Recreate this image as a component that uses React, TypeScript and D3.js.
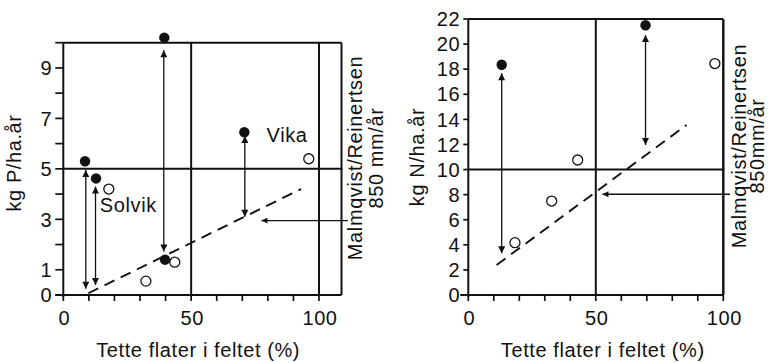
import * as d3 from "d3";

// ---- data ----
const xTicks = [0, 10, 20, 30, 40, 50, 60, 70, 80, 90, 100];
const xTickLabels = [0, 50, 100];

// left panel: phosphorus
const pYTicks = [0, 1, 2, 3, 4, 5, 6, 7, 8, 9, 10];
const pYTickLabels = [0, 1, 3, 5, 7, 9];
const pFilled = [
  { x: 8.5, y: 5.3 },
  { x: 12.8, y: 4.62 },
  { x: 39.5, y: 10.2 },
  { x: 70.8, y: 6.45 },
  { x: 39.8, y: 1.4 },
];
const pOpen = [
  { x: 17.8, y: 4.2 },
  { x: 96, y: 5.4 },
  { x: 32.3, y: 0.55 },
  { x: 43.6, y: 1.3 },
];
const pArrows = [
  { x: 8.8, y0: 0.25, y1: 4.95 },
  { x: 12.6, y0: 0.4, y1: 4.3 },
  { x: 39.3, y0: 1.72, y1: 9.7 },
  { x: 71, y0: 3.1, y1: 6.3 },
];
const pTrend = [
  { x: 9.8, y: 0.07 },
  { x: 93, y: 4.2 },
];
const pMalm = { x0: 111.3, x1: 77.5, y: 2.95 };
const pLabels = [
  { text: "Solvik", x: 14.3, y: 3.3 },
  { text: "Vika", x: 79.5, y: 6.05 },
];

// right panel: nitrogen
const nYTicks = [0, 2, 4, 6, 8, 10, 12, 14, 16, 18, 20, 22];
const nFilled = [
  { x: 13.1, y: 18.35 },
  { x: 69.5, y: 21.5 },
];
const nOpen = [
  { x: 18.3, y: 4.17 },
  { x: 32.7, y: 7.49 },
  { x: 42.9, y: 10.76 },
  { x: 96.7, y: 18.45 },
];
const nArrows = [
  { x: 13.1, y0: 3.32, y1: 17.67 },
  { x: 69.5, y0: 11.96, y1: 20.72 },
];
const nTrend = [
  { x: 11.1, y: 2.39 },
  { x: 85.6, y: 13.55 },
];
const nMalm = { x0: 102.6, x1: 52.6, y: 8.03 };

const FONT = "'Liberation Sans', Arial, sans-serif";
const FS = 20;
const LS = 0.6;
const INK = "#111";

interface Pt {
  x: number;
  y: number;
}
interface Arrow {
  x: number;
  y0: number;
  y1: number;
}

interface PanelProps {
  xRange: [number, number];
  yDomain: [number, number];
  yRange: [number, number];
  xMax: number;
  yTicks: number[];
  yTickLabels: number[];
  yTickLen: number;
  hLine: number;
  filled: Pt[];
  open: Pt[];
  arrows: Arrow[];
  trend: Pt[];
  malm: { x0: number; x1: number; y: number };
  labels: { text: string; x: number; y: number }[];
  yTitle: string;
  yTitleX: number;
  yTitleY: number;
  xTitleY: number;
  rightLines: string[];
  rightX: number[];
  rightY: number;
}

function Panel(p: PanelProps) {
  const x = d3.scaleLinear().domain([0, 100]).range(p.xRange);
  const y = d3.scaleLinear().domain(p.yDomain).range(p.yRange);
  const x0 = x(0);
  const y0 = y(0);
  const xR = x(p.xMax);
  const yT = y(p.yDomain[1]);
  const line = d3
    .line<Pt>()
    .x((d) => x(d.x))
    .y((d) => y(d.y));
  const txt = {
    fontFamily: FONT,
    fontSize: FS,
    letterSpacing: LS,
    fill: INK,
  } as const;

  return (
    <g>
      {/* frame and reference lines */}
      <g stroke={INK} strokeWidth={2} fill="none">
        <line x1={x0} x2={x0} y1={yT} y2={y0 + 2} />
        <line x1={x0 - 8} x2={xR} y1={y0} y2={y0} />
        <line x1={x0} x2={xR} y1={yT} y2={yT} />
        <line x1={xR} x2={xR} y1={yT} y2={y0} />
        <line x1={x(50)} x2={x(50)} y1={yT} y2={y0} />
        <line x1={x(100)} x2={x(100)} y1={yT} y2={y0} />
        <line x1={x0} x2={xR + 1} y1={y(p.hLine)} y2={y(p.hLine)} />
      </g>
      {/* ticks */}
      <g stroke={INK} strokeWidth={1.7}>
        {p.yTicks.map((t) => (
          <line key={t} x1={x0 - p.yTickLen} x2={x0} y1={y(t)} y2={y(t)} />
        ))}
        {xTicks.map((t) => (
          <line key={t} x1={x(t)} x2={x(t)} y1={y0} y2={y0 + 6} />
        ))}
      </g>
      {p.yTickLabels.map((t) => (
        <text
          key={t}
          x={x0 - p.yTickLen - 3}
          y={y(t)}
          dy="0.36em"
          textAnchor="end"
          {...txt}
        >
          {t}
        </text>
      ))}
      {xTickLabels.map((t) => (
        <text key={t} x={x(t) + 1} y={325} textAnchor="middle" {...txt}>
          {t}
        </text>
      ))}
      {/* trend */}
      <path
        d={line(p.trend) ?? ""}
        stroke={INK}
        strokeWidth={1.9}
        strokeDasharray="11,7"
        fill="none"
      />
      {/* vertical double arrows and the reference-value arrow */}
      <g stroke={INK} strokeWidth={1.3}>
        {p.arrows.map((a, i) => (
          <line
            key={i}
            x1={x(a.x)}
            x2={x(a.x)}
            y1={y(a.y0)}
            y2={y(a.y1)}
            markerStart="url(#ah)"
            markerEnd="url(#ah)"
          />
        ))}
        <line
          x1={x(p.malm.x0)}
          x2={x(p.malm.x1)}
          y1={y(p.malm.y)}
          y2={y(p.malm.y)}
          markerEnd="url(#ah2)"
        />
      </g>
      {/* points */}
      {p.filled.map((d, i) => (
        <circle key={i} cx={x(d.x)} cy={y(d.y)} r={5.2} fill={INK} />
      ))}
      {p.open.map((d, i) => (
        <circle
          key={i}
          cx={x(d.x)}
          cy={y(d.y)}
          r={5}
          fill="#fff"
          stroke={INK}
          strokeWidth={1.3}
        />
      ))}
      {p.labels.map((l) => (
        <text key={l.text} x={x(l.x)} y={y(l.y)} {...txt}>
          {l.text}
        </text>
      ))}
      {/* axis titles */}
      <text
        transform={`translate(${p.yTitleX},${p.yTitleY}) rotate(-90)`}
        textAnchor="middle"
        {...txt}
      >
        {p.yTitle}
      </text>
      <text
        x={(x(0) + x(100)) / 2 + 7}
        y={p.xTitleY}
        textAnchor="middle"
        {...txt}
      >
        Tette flater i feltet (%)
      </text>
      {p.rightLines.map((s, i) => (
        <text
          key={s}
          transform={`translate(${p.rightX[i]},${p.rightY}) rotate(-90)`}
          textAnchor="middle"
          {...txt}
        >
          {s}
        </text>
      ))}
    </g>
  );
}

export default function App() {
  return (
    <svg
      width={769}
      height={363}
      style={{ position: "absolute", left: 0, top: 0, background: "#fff" }}
    >
      <defs>
        <marker
          id="ah"
          viewBox="0 0 10 10"
          refX={10}
          refY={5}
          markerUnits="userSpaceOnUse"
          markerWidth={10}
          markerHeight={7}
          orient="auto-start-reverse"
        >
          <path d="M0,0 L10,5 L0,10 Z" fill={INK} />
        </marker>
        <marker
          id="ah2"
          viewBox="0 0 10 10"
          refX={10}
          refY={5}
          markerUnits="userSpaceOnUse"
          markerWidth={10}
          markerHeight={6}
          orient="auto"
        >
          <path d="M0,0 L10,5 L0,10 Z" fill={INK} />
        </marker>
      </defs>
      <Panel
        xRange={[63.3, 319]}
        yDomain={[0, 10]}
        yRange={[295, 42.7]}
        xMax={108.8}
        yTicks={pYTicks}
        yTickLabels={pYTickLabels}
        yTickLen={8}
        hLine={5}
        filled={pFilled}
        open={pOpen}
        arrows={pArrows}
        trend={pTrend}
        malm={pMalm}
        labels={pLabels}
        yTitle="kg P/ha.år"
        yTitleX={21}
        yTitleY={163}
        xTitleY={357}
        rightLines={["Malmqvist/Reinertsen", "850 mm/år"]}
        rightX={[362, 383]}
        rightY={158}
      />
      <Panel
        xRange={[468.3, 723.3]}
        yDomain={[0, 22]}
        yRange={[295, 19]}
        xMax={100}
        yTicks={nYTicks}
        yTickLabels={nYTicks}
        yTickLen={5}
        hLine={10}
        filled={nFilled}
        open={nOpen}
        arrows={nArrows}
        trend={nTrend}
        malm={nMalm}
        labels={[]}
        yTitle="kg N/ha.år"
        yTitleX={424}
        yTitleY={157}
        xTitleY={357}
        rightLines={["Malmqvist/Reinertsen", "850mm/år"]}
        rightX={[746, 764]}
        rightY={146}
      />
    </svg>
  );
}
